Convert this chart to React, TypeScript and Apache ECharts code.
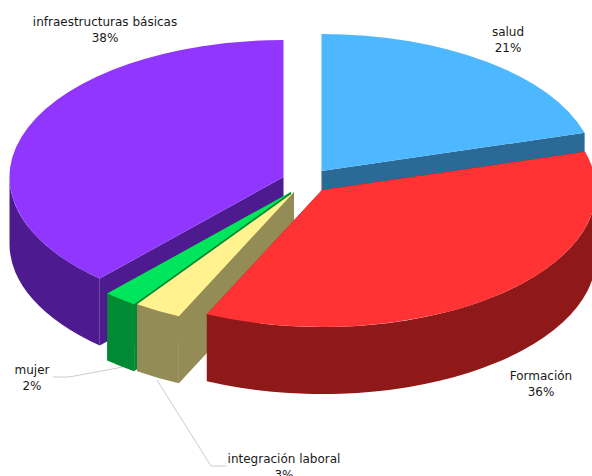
import React, { useEffect, useRef } from "react";
import * as echarts from "echarts";

// Data, clockwise from 12 o'clock
const categories = ["salud", "Formación", "integración laboral", "mujer", "infraestructuras básicas"];
const shares = [20.5, 36.4, 2.8, 2.0, 38.3];

// Layout and style, kept apart from the data
const W = 592;
const H = 476;
const RX = 274;
const RY = 137;
const DEPTH = 67;
const DRAW_ORDER = [0, 4, 3, 2, 1];
const APEX = [
  [321.5, 171],
  [322, 190],
  [294, 192],
  [291, 192],
  [283.5, 177],
];
const TOP_COLORS = ["#4DB8FF", "#FF3333", "#FFF28F", "#00E65C", "#9136FF"];
const WALL_COLORS = ["#2B6A96", "#8F1818", "#948C57", "#008A33", "#4E1A8F"];
const LABEL_POS = [
  [508, 32],
  [541, 376],
  [284, 459],
  [32, 370],
  [105, 22],
];
const LEADERS: number[][][] = [
  [[227, 466], [211, 466], [157, 380]],
  [[53, 377], [69, 377], [123, 367]],
];
const LINE_HEIGHT = 16;
const FONT = "'DejaVu Sans', sans-serif";

const total = shares.reduce((a, b) => a + b, 0);
const angles: number[][] = [];
shares.reduce((start, v) => {
  const end = start + (v / total) * 360;
  angles.push([start, end]);
  return end;
}, 0);

const rad = (d: number) => (d * Math.PI) / 180;
const pt = (i: number, deg: number, dy = 0) => [
  APEX[i][0] + RX * Math.sin(rad(deg)),
  APEX[i][1] - RY * Math.cos(rad(deg)) + dy,
];
const fmt = (p: number[]) => `${p[0].toFixed(2)} ${p[1].toFixed(2)}`;

function topPath(i: number) {
  const [a, b] = angles[i];
  const large = b - a > 180 ? 1 : 0;
  return `M${APEX[i][0]} ${APEX[i][1]} L${fmt(pt(i, a))} A${RX} ${RY} 0 ${large} 1 ${fmt(pt(i, b))} Z`;
}
function radialWall(i: number, deg: number) {
  const p = pt(i, deg);
  const q = pt(i, deg, DEPTH);
  return `M${APEX[i][0]} ${APEX[i][1]} L${fmt(p)} L${fmt(q)} L${APEX[i][0]} ${APEX[i][1] + DEPTH} Z`;
}
function outerWall(i: number) {
  const a = Math.max(angles[i][0], 90);
  const b = Math.min(angles[i][1], 270);
  if (b <= a) return null;
  return (
    `M${fmt(pt(i, a))} A${RX} ${RY} 0 0 1 ${fmt(pt(i, b))} ` +
    `L${fmt(pt(i, b, DEPTH))} A${RX} ${RY} 0 0 0 ${fmt(pt(i, a, DEPTH))} Z`
  );
}

function renderSlice(_params: any, api: any) {
  const i = api.value(0) as number;
  const children: any[] = [];
  const add = (d: string | null, fill: string) => {
    if (d) children.push({ type: "path", shape: { pathData: d }, style: { fill, stroke: null } });
  };
  add(radialWall(i, angles[i][0]), WALL_COLORS[i]);
  add(radialWall(i, angles[i][1]), WALL_COLORS[i]);
  add(outerWall(i), WALL_COLORS[i]);
  add(topPath(i), TOP_COLORS[i]);
  return { type: "group", children };
}

function renderLeader(params: any) {
  const pts = LEADERS[params.dataIndex];
  return {
    type: "polyline",
    shape: { points: pts },
    style: { fill: null, stroke: "#CCCCCC", lineWidth: 1 },
  };
}

function renderLabel(_params: any, api: any) {
  const i = api.value(0) as number;
  const mk = (text: string, y: number) => ({
    type: "text",
    x: LABEL_POS[i][0],
    y,
    style: {
      text,
      fill: "#1A1A1A",
      font: `12px ${FONT}`,
      textAlign: "center",
      textVerticalAlign: "middle",
    },
  });
  return {
    type: "group",
    children: [
      mk(categories[i], LABEL_POS[i][1]),
      mk(`${Math.round(shares[i])}%`, LABEL_POS[i][1] + LINE_HEIGHT),
    ],
  };
}

export default function App() {
  const ref = useRef<HTMLDivElement>(null);
  useEffect(() => {
    const chart = echarts.init(ref.current!, null, { renderer: "svg" });
    chart.setOption({
      animation: false,
      backgroundColor: "#FFFFFF",
      series: [
        {
          type: "custom",
          coordinateSystem: "none",
          silent: true,
          renderItem: renderLeader,
          data: LEADERS.map((_, k) => [k]),
        },
        {
          type: "custom",
          coordinateSystem: "none",
          silent: true,
          renderItem: renderSlice,
          data: DRAW_ORDER.map((i) => ({ name: categories[i], value: [i, shares[i]] })),
        },
        {
          type: "custom",
          coordinateSystem: "none",
          silent: true,
          renderItem: renderLabel,
          data: categories.map((name, i) => ({ name, value: [i, shares[i]] })),
        },
      ],
    });
    return () => chart.dispose();
  }, []);
  return (
    <div
      ref={ref}
      style={{ position: "absolute", left: 0, top: 0, width: W, height: H, overflow: "hidden" }}
    />
  );
}
